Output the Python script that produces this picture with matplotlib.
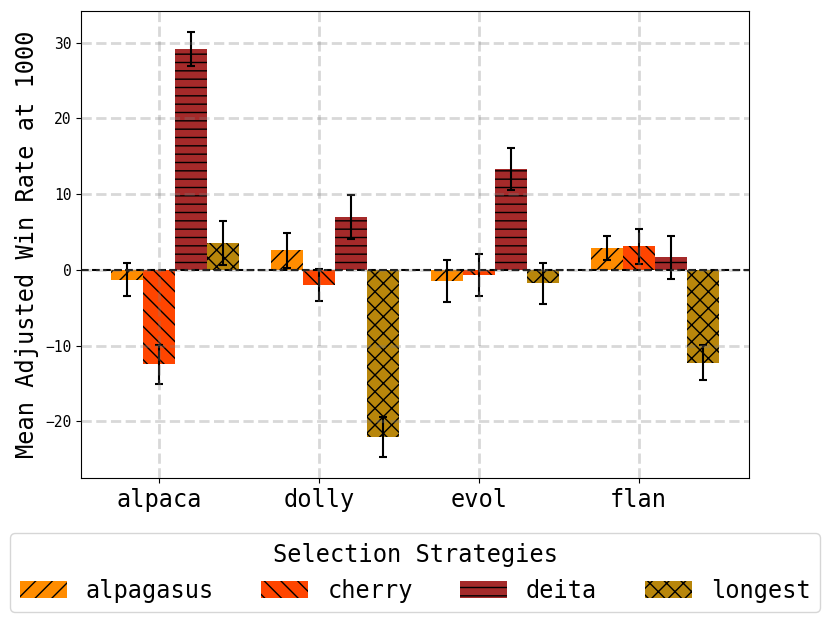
import numpy as np
import matplotlib.pyplot as plt

plt.rcParams['font.family'] = ['DejaVu Sans Mono']

datasets = ['alpaca', 'dolly', 'evol', 'flan']
strategies = ['alpagasus', 'cherry', 'deita', 'longest']

alpagasus = [-1.3, 2.6, -1.5, 2.9]
cherry = [-12.5, -2.0, -0.7, 3.1]
deita = [29.2, 7.0, 13.35, 1.65]
longest = [3.5, -22.1, -1.8, -12.25]

alpagasus_err = [2.2, 2.3, 2.8, 1.6]
cherry_err = [2.6, 2.1, 2.8, 2.3]
deita_err = [2.2, 2.9, 2.75, 2.8]
longest_err = [2.9, 2.6, 2.7, 2.3]

colors = ['darkorange', 'orangered', 'brown', 'darkgoldenrod']
hatches = ['//', '\\\\', '--', 'xx']

means = [alpagasus, cherry, deita, longest]
errs = [alpagasus_err, cherry_err, deita_err, longest_err]

fig = plt.figure(figsize=(8.3, 6.24), dpi=100)
ax = fig.add_axes([0.0976, 0.234, 0.8048, 0.7484])

x = np.arange(len(datasets))
width = 0.2
for i, name in enumerate(strategies):
    ax.bar(x + (i - 1) * width, means[i], width, yerr=errs[i],
           color=colors[i], hatch=hatches[i], edgecolor='black', linewidth=0,
           label=name, capsize=3,
           error_kw=dict(elinewidth=1.5, capthick=1.5, ecolor='black'))

ax.axhline(0, color='black', linestyle='--', linewidth=1.5)
ax.set_xticks(x)
ax.set_xticklabels(datasets, fontsize=17)
ax.tick_params(axis='y', labelsize=10.5)
ax.set_ylabel('Mean Adjusted Win Rate at 1000', fontsize=17)
ax.set_axisbelow(False)
ax.grid(True, linestyle='--', linewidth=2, color='gray', alpha=0.3)

fig.legend(loc='lower center', bbox_to_anchor=(0.5, 0.0192), ncol=4,
           title='Selection Strategies', fontsize=17, title_fontsize=17,
           borderaxespad=0)

plt.savefig('out.png', dpi=100)
plt.close(fig)
